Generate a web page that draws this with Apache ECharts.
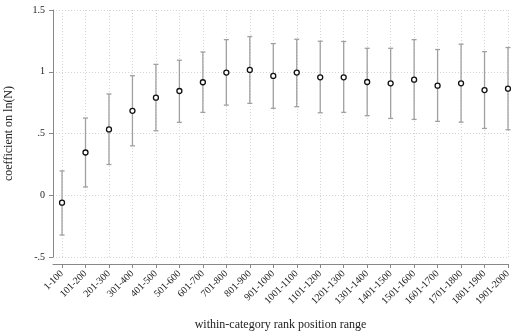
<!DOCTYPE html>
<html>
<head>
<meta charset="utf-8">
<script src="https://cdn.jsdelivr.net/npm/echarts@6/dist/echarts.min.js"></script>
<style>
  html, body { margin: 0; padding: 0; background: #fff; }
  #chart { width: 511px; height: 331px; }
</style>
</head>
<body>
<div id="chart"></div>
<script>
// rank ranges on the x axis
let categories = ["1-100", "101-200", "201-300", "301-400", "401-500", "501-600", "601-700",
  "701-800", "801-900", "901-1000", "1001-1100", "1101-1200", "1201-1300", "1301-1400",
  "1401-1500", "1501-1600", "1601-1700", "1701-1800", "1801-1900", "1901-2000"];
// point estimates
let coef = [-0.06, 0.346, 0.533, 0.684, 0.79, 0.844, 0.915, 0.993, 1.015, 0.966,
  0.993, 0.955, 0.955, 0.917, 0.906, 0.936, 0.887, 0.906, 0.852, 0.863];
// confidence interval bounds
let ciLow = [-0.322, 0.067, 0.249, 0.40, 0.522, 0.59, 0.671, 0.73, 0.744, 0.704,
  0.717, 0.668, 0.671, 0.644, 0.622, 0.614, 0.598, 0.592, 0.541, 0.53];
let ciHigh = [0.197, 0.625, 0.82, 0.968, 1.06, 1.093, 1.16, 1.26, 1.285, 1.228,
  1.263, 1.247, 1.245, 1.19, 1.19, 1.26, 1.18, 1.223, 1.163, 1.196];
// y ticks
let yTicks = [-0.5, 0, 0.5, 1, 1.5];
let yTickLabels = ["-.5", "0", ".5", "1", "1.5"];

let myChart = echarts.init(document.getElementById("chart"));
let font = "Liberation Serif";
let idx = categories.map((c, i) => i);
let gridStyle = { color: "#d4d4d4", type: [1, 2], width: 1 };

let option = {
  animation: false,
  backgroundColor: "#fff",
  grid: { left: 53, right: 3, top: 10, bottom: 74, containLabel: false, outerBoundsMode: "none" },
  xAxis: {
    type: "value",
    min: -0.385,
    max: 19,
    offset: 7,
    name: "within-category rank position range",
    nameLocation: "middle",
    nameGap: 55,
    nameTextStyle: { fontFamily: font, fontSize: 12, color: "#222" },
    axisLine: { show: true, onZero: false, lineStyle: { color: "#888", width: 1 } },
    axisTick: { show: true, length: 4, customValues: idx, lineStyle: { color: "#888" } },
    axisLabel: {
      customValues: idx,
      rotate: 45,
      margin: 8,
      fontFamily: font,
      fontSize: 10,
      color: "#222",
      formatter: function (v) {
        return categories[Math.round(v)];
      },
    },
    splitLine: { show: false },
  },
  yAxis: {
    type: "value",
    min: -0.5,
    max: 1.5,
    interval: 0.5,
    name: "coefficient on ln(N)",
    nameLocation: "middle",
    nameGap: 38,
    nameTextStyle: { fontFamily: font, fontSize: 12, color: "#222" },
    axisLine: { show: true, onZero: false, lineStyle: { color: "#888", width: 1 } },
    axisTick: { show: true, length: 4, lineStyle: { color: "#888" } },
    axisLabel: {
      margin: 8,
      fontFamily: font,
      fontSize: 10,
      color: "#222",
      formatter: function (v) {
        let k = yTicks.findIndex((t) => Math.abs(t - v) < 1e-9);
        return k >= 0 ? yTickLabels[k] : "";
      },
    },
    splitLine: { show: true, lineStyle: gridStyle },
  },
  series: [
    {
      // error bars with caps
      type: "custom",
      data: idx.map((i) => [i, ciLow[i], ciHigh[i]]),
      encode: { x: 0, y: [1, 2] },
      renderItem: function (params, api) {
        let lo = api.coord([api.value(0), api.value(1)]);
        let hi = api.coord([api.value(0), api.value(2)]);
        let cap = 2.5;
        let style = { stroke: "#a0a0a0", lineWidth: 1.3 };
        return {
          type: "group",
          children: [
            { type: "line", shape: { x1: lo[0], y1: lo[1], x2: hi[0], y2: hi[1] }, style: style },
            { type: "line", shape: { x1: hi[0] - cap, y1: hi[1], x2: hi[0] + cap, y2: hi[1] }, style: style },
            { type: "line", shape: { x1: lo[0] - cap, y1: lo[1], x2: lo[0] + cap, y2: lo[1] }, style: style },
          ],
        };
      },
      z: 2,
    },
    {
      type: "scatter",
      data: idx.map((i) => [i, coef[i]]),
      symbol: "circle",
      symbolSize: 5,
      itemStyle: { color: "#fff", borderColor: "#111", borderWidth: 1.3, opacity: 1 },
      z: 3,
      // vertical dotted grid at each category
      markLine: {
        silent: true,
        symbol: "none",
        label: { show: false },
        lineStyle: gridStyle,
        data: idx.map((i) => ({ xAxis: i })),
        z: 0,
      },
    },
  ],
};

myChart.setOption(option);
</script>
</body>
</html>
